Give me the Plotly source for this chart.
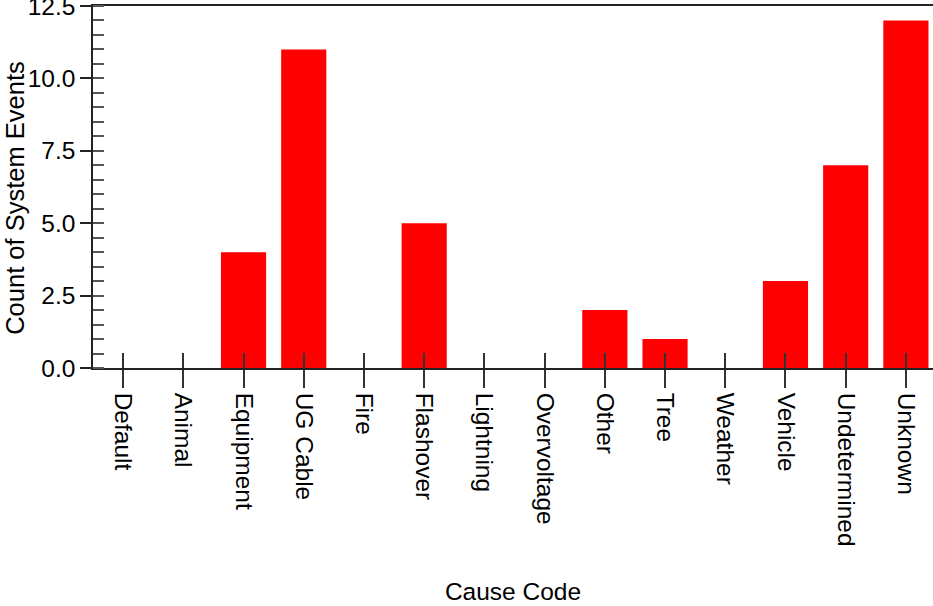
import plotly.graph_objects as go

categories = ["Default", "Animal", "Equipment", "UG Cable", "Fire", "Flashover",
              "Lightning", "Overvoltage", "Other", "Tree", "Weather", "Vehicle",
              "Undetermined", "Unknown"]
counts = [0, 0, 4, 11, 0, 5, 0, 0, 2, 1, 0, 3, 7, 12]
y_ticks = [0.0, 2.5, 5.0, 7.5, 10.0, 12.5]
y_tick_labels = ["0.0", "2.5", "5.0", "7.5", "10.0", "12.5"]

FONT = "Liberation Sans, Arial, sans-serif"
xr = [-0.5, 13.45]

fig = go.Figure()
fig.add_trace(go.Bar(x=categories, y=counts, marker=dict(color="#FF0000", line=dict(width=0)),
                     hoverinfo="x+y"))
fig.add_trace(go.Scatter(x=categories, y=counts, xaxis="x2", mode="markers",
                         marker=dict(opacity=0), hoverinfo="skip", showlegend=False))

fig.update_layout(
    width=933, height=606,
    margin=dict(l=93, r=0, t=6, b=238, autoexpand=False),
    paper_bgcolor="white", plot_bgcolor="white",
    showlegend=False, bargap=0.25,
    font=dict(family=FONT, size=24.5, color="black"),
    xaxis=dict(
        type="category", categoryorder="array", categoryarray=categories,
        range=xr, showgrid=False, zeroline=False,
        showline=True, linecolor="#222", linewidth=1.5, mirror=True,
        ticks="outside", ticklen=18, tickwidth=1.5, tickcolor="#333",
        tickangle=90, tickfont=dict(size=24.5, family=FONT, color="black"),
        title=dict(text="Cause Code", standoff=37, font=dict(size=24.5, family=FONT)),
        automargin=False,
    ),
    xaxis2=dict(
        type="category", categoryorder="array", categoryarray=categories,
        range=xr, overlaying="x", anchor="y", side="bottom",
        showgrid=False, zeroline=False, showline=False,
        ticks="inside", ticklen=15, tickwidth=1.5, tickcolor="#333",
        showticklabels=False, automargin=False,
    ),
    yaxis=dict(
        range=[0, 12.5], tickmode="array", tickvals=y_ticks, ticktext=y_tick_labels,
        showgrid=False, zeroline=False,
        showline=True, linecolor="#222", linewidth=1.5,
        ticks="outside", ticklen=11, tickwidth=1.5, tickcolor="#222",
        ticklabeloverflow="allow",
        minor=dict(dtick=0.5, tick0=0, ticks="inside", ticklen=11, tickwidth=1.5,
                   tickcolor="#555", showgrid=False),
        tickfont=dict(size=24.5, family=FONT, color="black"),
        automargin=False,
    ),
    annotations=[dict(
        text="Count of System Events", textangle=-90,
        xref="paper", yref="paper", x=-0.0929, y=0.47,
        xanchor="center", yanchor="middle", showarrow=False,
        font=dict(size=25.5, family=FONT, color="black"),
    )],
)

fig.write_html("out.html", config={"displayModeBar": False},
               post_script="document.body.style.margin='0';")
